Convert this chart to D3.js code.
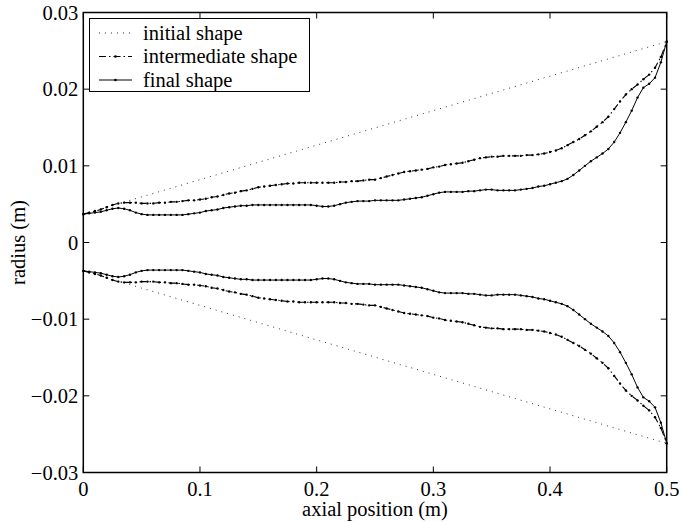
<!DOCTYPE html>
<html>
<head>
<meta charset="utf-8">
<script src="https://cdn.jsdelivr.net/npm/d3@7"></script>
<style>
  html, body { margin: 0; padding: 0; background: #fff; }
  svg text { font-family: "Liberation Serif", "Times New Roman", serif; fill: #000; }
</style>
</head>
<body>
<svg id="chart" width="681" height="522"></svg>
<script>
// Axial stations (m), 0.005 m apart
const axialPos = d3.range(101).map(i => +(i * 0.005).toFixed(3));

// Initial (linear) horn profile: end radii
const initialPos = [0, 0.5];
const initialRadius = [0.0037, 0.0262];

// Intermediate optimisation result, upper wall radius (m)
const intermediateRadius = [
  0.0037, 0.0039, 0.0041, 0.0043, 0.0046, 0.0049, 0.0051, 0.0052, 0.0052, 0.0052,
  0.0051, 0.0051, 0.0051, 0.0052, 0.0052, 0.0053, 0.0053, 0.0054, 0.0055, 0.0055,
  0.0056, 0.0057, 0.0059, 0.0060, 0.0062, 0.0064, 0.0065, 0.0067, 0.0068, 0.0070,
  0.0072, 0.0073, 0.0074, 0.0075, 0.0076, 0.0077, 0.0077, 0.0078, 0.0078, 0.0078,
  0.0078, 0.0078, 0.0078, 0.0078, 0.0079, 0.0079, 0.0080, 0.0080, 0.0081, 0.0082,
  0.0082, 0.0084, 0.0086, 0.0088, 0.0090, 0.0092, 0.0093, 0.0094, 0.0095, 0.0096,
  0.0098, 0.0099, 0.0101, 0.0102, 0.0103, 0.0104, 0.0106, 0.0108, 0.0110, 0.0111,
  0.0112, 0.0112, 0.0113, 0.0113, 0.0113, 0.0113, 0.0114, 0.0114, 0.0115, 0.0116,
  0.0118, 0.0120, 0.0123, 0.0127, 0.0131, 0.0135, 0.0140, 0.0145, 0.0151, 0.0157,
  0.0164, 0.0174, 0.0184, 0.0193, 0.0200, 0.0206, 0.0213, 0.0219, 0.0228, 0.0242,
  0.0262
];

// Final optimised profile, upper wall radius (m)
const finalRadius = [
  0.0037, 0.0038, 0.0039, 0.0040, 0.0042, 0.0044, 0.0045, 0.0044, 0.0042, 0.0039,
  0.0037, 0.0036, 0.0036, 0.0036, 0.0036, 0.0036, 0.0036, 0.0036, 0.0037, 0.0038,
  0.0039, 0.0041, 0.0042, 0.0043, 0.0045, 0.0046, 0.0047, 0.0048, 0.0048, 0.0049,
  0.0049, 0.0049, 0.0049, 0.0049, 0.0049, 0.0049, 0.0049, 0.0049, 0.0049, 0.0049,
  0.0048, 0.0047, 0.0047, 0.0048, 0.0050, 0.0052, 0.0053, 0.0054, 0.0054, 0.0054,
  0.0055, 0.0055, 0.0055, 0.0055, 0.0055, 0.0056, 0.0057, 0.0058, 0.0059, 0.0061,
  0.0063, 0.0065, 0.0066, 0.0066, 0.0066, 0.0066, 0.0067, 0.0067, 0.0068, 0.0069,
  0.0069, 0.0068, 0.0068, 0.0068, 0.0068, 0.0069, 0.0070, 0.0071, 0.0073, 0.0074,
  0.0076, 0.0078, 0.0080, 0.0083, 0.0088, 0.0094, 0.0100, 0.0106, 0.0111, 0.0116,
  0.0122, 0.0131, 0.0143, 0.0157, 0.0172, 0.0189, 0.0202, 0.0207, 0.0215, 0.0235,
  0.0262
];

const xTicks = [0, 0.1, 0.2, 0.3, 0.4, 0.5];
const xTickLabels = ["0", "0.1", "0.2", "0.3", "0.4", "0.5"];
const yTicks = [-0.03, -0.02, -0.01, 0, 0.01, 0.02, 0.03];
const yTickLabels = ["\u22120.03", "\u22120.02", "\u22120.01", "0", "0.01", "0.02", "0.03"];

const legendLabels = ["initial shape", "intermediate shape", "final shape"];

const svg = d3.select("#chart");
const plot = { left: 83.3, right: 666.7, top: 12.5, bottom: 472.5 };
const FONT = 20.5;

const x = d3.scaleLinear().domain([0, 0.5]).range([plot.left, plot.right]);
const y = d3.scaleLinear().domain([-0.03, 0.03]).range([plot.bottom, plot.top]);

// Series: each profile is drawn for the upper wall and its mirror (lower wall)
const toPts = (xs, rs, sign) => xs.map((p, i) => [p, sign * rs[i]]);
const series = [
  { name: "initial", xs: initialPos, rs: initialRadius, dash: "1 5", width: 1, color: "#333", markers: false },
  { name: "intermediate", xs: axialPos, rs: intermediateRadius, dash: "7 3 1.5 3", width: 1.1, color: "#000", markers: true },
  { name: "final", xs: axialPos, rs: finalRadius, dash: null, width: 1, color: "#000", markers: true }
];

const line = d3.line().x(d => x(d[0])).y(d => y(d[1]));
const g = svg.append("g");

series.forEach(s => {
  [1, -1].forEach(sign => {
    const pts = toPts(s.xs, s.rs, sign);
    g.append("path")
      .attr("d", line(pts))
      .attr("fill", "none")
      .attr("stroke", s.color)
      .attr("stroke-width", s.width)
      .attr("stroke-dasharray", s.dash);
    if (s.markers) {
      g.selectAll(null).data(pts).enter().append("circle")
        .attr("cx", d => x(d[0]))
        .attr("cy", d => y(d[1]))
        .attr("r", 1.2)
        .attr("fill", "#000");
    }
  });
});

// Axes box with inward ticks on all four sides
const axG = svg.append("g");
const tickLen = 6;
xTicks.forEach(v => {
  axG.append("line").attr("x1", x(v)).attr("x2", x(v)).attr("y1", plot.bottom).attr("y2", plot.bottom - tickLen).attr("stroke", "#000");
  axG.append("line").attr("x1", x(v)).attr("x2", x(v)).attr("y1", plot.top).attr("y2", plot.top + tickLen).attr("stroke", "#000");
});
yTicks.forEach(v => {
  axG.append("line").attr("x1", plot.left).attr("x2", plot.left + tickLen).attr("y1", y(v)).attr("y2", y(v)).attr("stroke", "#000");
  axG.append("line").attr("x1", plot.right).attr("x2", plot.right - tickLen).attr("y1", y(v)).attr("y2", y(v)).attr("stroke", "#000");
});
axG.append("rect")
  .attr("x", plot.left).attr("y", plot.top)
  .attr("width", plot.right - plot.left).attr("height", plot.bottom - plot.top)
  .attr("fill", "none").attr("stroke", "#000").attr("stroke-width", 1.5);

// Tick labels
axG.selectAll(null).data(xTicks).enter().append("text")
  .attr("x", d => x(d)).attr("y", 496)
  .attr("text-anchor", "middle").attr("font-size", FONT)
  .text((d, i) => xTickLabels[i]);
axG.selectAll(null).data(yTicks).enter().append("text")
  .attr("x", plot.left - 5).attr("y", d => y(d) + 7)
  .attr("text-anchor", "end").attr("font-size", FONT)
  .text((d, i) => yTickLabels[i]);

// Axis titles
svg.append("text").attr("x", (plot.left + plot.right) / 2).attr("y", 516)
  .attr("text-anchor", "middle").attr("font-size", FONT).text("axial position (m)");
svg.append("text").attr("transform", `translate(25, ${(plot.top + plot.bottom) / 2}) rotate(-90)`)
  .attr("text-anchor", "middle").attr("font-size", FONT).text("radius (m)");

// Legend
const leg = svg.append("g");
leg.append("rect").attr("x", 89.5).attr("y", 18.5).attr("width", 220).attr("height", 73)
  .attr("fill", "#fff").attr("stroke", "#000").attr("stroke-width", 1);
series.forEach((s, i) => {
  const cy = 33 + i * 23.5;
  leg.append("line").attr("x1", 99).attr("x2", 132).attr("y1", cy).attr("y2", cy)
    .attr("stroke", s.color).attr("stroke-width", s.width).attr("stroke-dasharray", s.dash);
  if (s.markers) {
    leg.append("circle").attr("cx", 115.5).attr("cy", cy).attr("r", 1.3).attr("fill", "#000");
  }
  leg.append("text").attr("x", 143).attr("y", cy + 6.5).attr("font-size", FONT).text(legendLabels[i]);
});
</script>
</body>
</html>
